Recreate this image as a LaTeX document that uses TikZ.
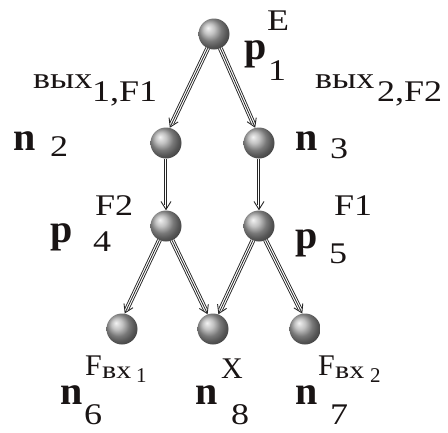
\documentclass[tikz,border=0pt]{standalone}
\usepackage{fontspec}
\usepackage{graphicx}
\setmainfont{Liberation Serif}
\usetikzlibrary{arrows.meta}
\definecolor{ink}{RGB}{25,20,20}
\newcommand\mainf{\fontsize{40}{42}\selectfont\bfseries}
\newcommand\scf{\fontsize{30}{32}\selectfont\mdseries}
\newcommand\sx[1]{\scalebox{1.2}[1]{#1}}
\newcommand\triarrow[2]{%
  \draw[outerline] (#1) -- (#2);
  \draw[innerline] (#1) -- (#2);}
\begin{document}
\begin{tikzpicture}[x=1pt,y=-1pt,
  ball/.style={circle, minimum size=31pt, inner sep=0pt, shading=ball, ball color=gray!65},
  outerline/.style={draw=black!85, line width=0.9pt, double=white, double distance=3.0pt, shorten >=5pt},
  innerline/.style={draw=black!85, line width=0.8pt, -{Straight Barb[length=8pt,width=10pt,line width=0.9pt]}},
  big/.style={anchor=base west, inner sep=0pt, text=ink, font=\mainf},
  sc/.style={anchor=base west, inner sep=0pt, text=ink, font=\scf}]
\useasboundingbox (0,0) rectangle (448,432);
% balls
\node[ball] (p1) at (214,34) {};
\node[ball] (n2) at (166,143) {};
\node[ball] (n3) at (259,143) {};
\node[ball] (p4) at (166,226) {};
\node[ball] (p5) at (259,226) {};
\node[ball] (n6) at (122,329) {};
\node[ball] (n8) at (213,329) {};
\node[ball] (n7) at (305,329) {};
% connectors
\triarrow{p1.246}{n2.76}
\triarrow{p1.294}{n3.104}
\triarrow{n2.south}{p4.north}
\triarrow{n3.south}{p5.north}
\triarrow{p4.245}{n6.80}
\triarrow{p4.293}{n8.110}
\triarrow{p5.247}{n8.70}
\triarrow{p5.295}{n7.100}
% labels p1
\node[big] (lp1) at (244,59) {p};
\node[sc] (lp1sup) at (267,30) {\sx{E}};
\node[sc] (lp1sub) at (268,80) {\sx{1}};
% vyh labels
\node[sc] (lv1) at (33,88) {\sx{вых}};
\node[sc] (lv1sub) at (92,101) {\sx{1,F1}};
\node[sc] (lv2) at (315,88) {\sx{вых}};
\node[sc] (lv2sub) at (377,101) {\sx{2,F2}};
% n2, n3
\node[big] (ln2) at (13,150) {n};
\node[sc] (ln2sub) at (50,156) {\sx{2}};
\node[big] (ln3) at (295,150) {n};
\node[sc] (ln3sub) at (330,158) {\sx{3}};
% p4, p5
\node[big] (lp4) at (50,242) {p};
\node[sc] (lp4sup) at (95,215) {\sx{F2}};
\node[sc] (lp4sub) at (93,251) {\sx{4}};
\node[big] (lp5) at (295,248) {p};
\node[sc] (lp5sup) at (334,215) {\sx{F1}};
\node[sc] (lp5sub) at (329,263) {\sx{5}};
% n6
\node[big] (ln6) at (60,404) {n};
\node[sc] (ln6F) at (85,375) {F};
\node[sc] (ln6bx) at (102,378) {\fontsize{25}{27}\selectfont\sx{вх}};
\node[sc] (ln6i) at (136,382) {\fontsize{21}{23}\selectfont 1};
\node[sc] (ln6sub) at (84,424) {\sx{6}};
% n8
\node[big] (ln8) at (195,404) {n};
\node[sc] (ln8sup) at (221,378) {X};
\node[sc] (ln8sub) at (231,424) {\sx{8}};
% n7
\node[big] (ln7) at (295,404) {n};
\node[sc] (ln7F) at (318,375) {F};
\node[sc] (ln7bx) at (335,378) {\fontsize{25}{27}\selectfont\sx{вх}};
\node[sc] (ln7i) at (370,382) {\fontsize{21}{23}\selectfont 2};
\node[sc] (ln7sub) at (330,424) {\sx{7}};
\end{tikzpicture}
\end{document}
